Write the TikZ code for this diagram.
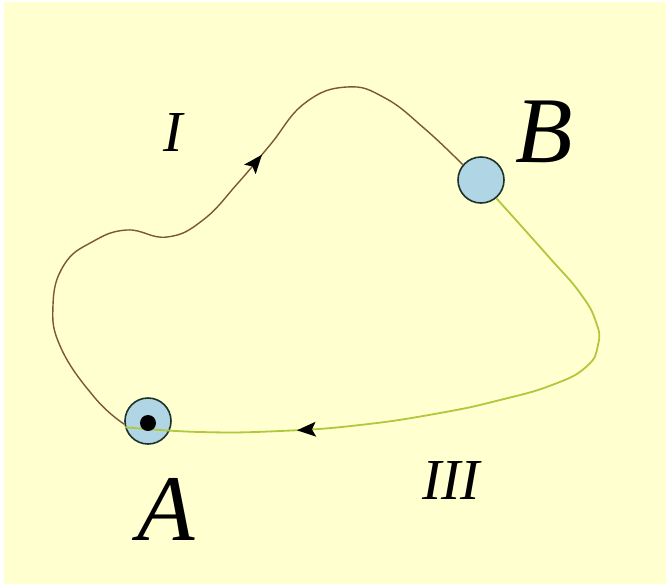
\documentclass[tikz,border=0pt]{standalone}
\usepackage{fontspec}
\setmainfont{Liberation Serif}
\usetikzlibrary{arrows.meta,decorations.markings}
\definecolor{paper}{RGB}{255,255,208}
\definecolor{ballblue}{RGB}{176,214,230}
\definecolor{rimdark}{RGB}{30,50,40}
\definecolor{brownline}{RGB}{125,85,55}
\definecolor{greenline}{RGB}{175,200,60}

\begin{document}
\begin{tikzpicture}[x=1pt,y=-1pt,>=Latex]
  \tikzstyle{ball}=[circle,draw=rimdark,line width=1.6pt,fill=ballblue,minimum size=46pt,inner sep=0pt]
  \tikzstyle{lbl}=[anchor=base,inner sep=0pt]
  \tikzstyle{midarrow}=[postaction={decorate},decoration={markings,mark=at position #1 with {\fill[black] (8pt,0pt) -- (-11pt,7.5pt) -- (-7pt,0pt) -- (-11pt,-7.5pt) -- cycle;}}]
  \useasboundingbox (0,0) rectangle (666,584);
  \fill[white] (0,0) rectangle (666,584);
  \fill[paper] (4,2) rectangle (666,584);
  \node[ball] (A) at (148,421) {};
  \node[ball] (B) at (481,180) {};
  % path I
  \draw[brownline,line width=1.4pt,midarrow=0.615] plot[smooth,tension=0.75] coordinates {(A.188) (95,398) (61,348) (53,305) (64,265) (92,242) (127,230) (167,237) (203,220) (238,183) (270,145) (305,103) (347,87) (385,98) (425,129) (B.140)};
  % path III
  \draw[greenline,line width=1.8pt,midarrow=0.735] plot[smooth,tension=0.8] coordinates {(B.-50) (548,256) (580,293) (596,322) (598,345) (586,367) (552,385) (500,400) (440,413) (360,425) (280,431) (200,432) (A.195)};
  \node[circle,fill=black,minimum size=16pt,inner sep=0pt] (Adot) at (148,423) {};
  \node[lbl,font=\itshape\fontsize{94}{94}\selectfont] (labA) at (166,540) {A};
  \node[lbl,font=\itshape\fontsize{94}{94}\selectfont] (labB) at (544,162) {B};
  \node[lbl,font=\itshape\fontsize{58}{58}\selectfont] (labI) at (173,151) {I};
  \node[lbl,font=\itshape\fontsize{58}{58}\selectfont] (labIII) at (451,499) {III};
\end{tikzpicture}
\end{document}
